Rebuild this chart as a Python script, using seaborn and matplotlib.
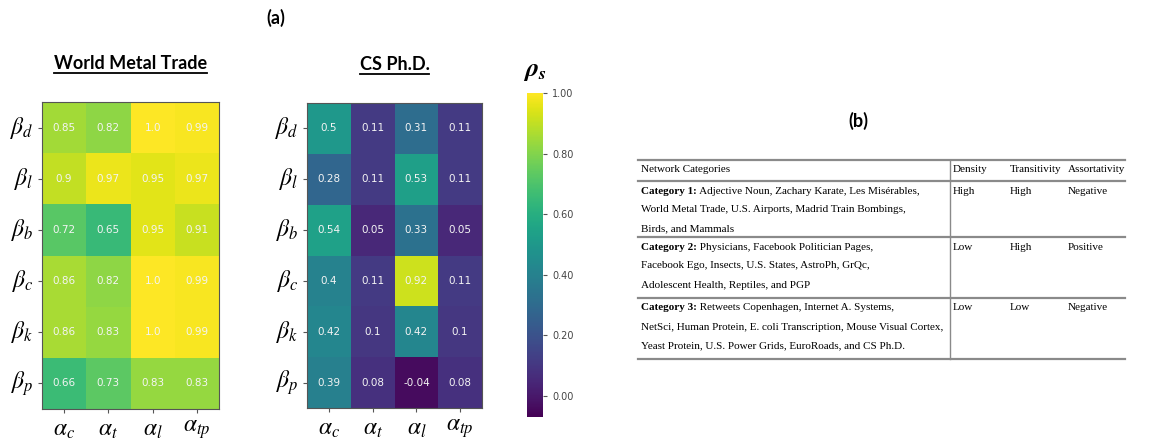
import matplotlib
matplotlib.use("Agg")
import matplotlib.pyplot as plt
import numpy as np
import seaborn as sns

# data
row_labels = [r"$\beta_d$", r"$\beta_l$", r"$\beta_b$", r"$\beta_c$", r"$\beta_k$", r"$\beta_p$"]
col_labels = [r"$\alpha_c$", r"$\alpha_t$", r"$\alpha_l$", r"$\alpha_{tp}$"]

metal_trade = [
    [0.85, 0.82, 1.0, 0.99],
    [0.9, 0.97, 0.95, 0.97],
    [0.72, 0.65, 0.95, 0.91],
    [0.86, 0.82, 1.0, 0.99],
    [0.86, 0.83, 1.0, 0.99],
    [0.66, 0.73, 0.83, 0.83],
]
cs_phd = [
    [0.5, 0.11, 0.31, 0.11],
    [0.28, 0.11, 0.53, 0.11],
    [0.54, 0.05, 0.33, 0.05],
    [0.4, 0.11, 0.92, 0.11],
    [0.42, 0.1, 0.42, 0.1],
    [0.39, 0.08, -0.04, 0.08],
]
cbar_ticks = [0.0, 0.2, 0.4, 0.6, 0.8, 1.0]

table_header = ["Network Categories", "Density", "Transitivity", "Assortativity"]
table_bold = ["Category 1:", "Category 2:", "Category 3:"]
table_lines = [
    [" Adjective Noun, Zachary Karate, Les Misérables,",
     "World Metal Trade, U.S. Airports, Madrid Train Bombings,",
     "Birds, and Mammals"],
    [" Physicians, Facebook Politician Pages,",
     "Facebook Ego, Insects, U.S. States, AstroPh, GrQc,",
     "Adolescent Health, Reptiles, and PGP"],
    [" Retweets Copenhagen, Internet A. Systems,",
     "NetSci, Human Protein, E. coli Transcription, Mouse Visual Cortex,",
     "Yeast Protein, U.S. Power Grids, EuroRoads, and CS Ph.D."],
]
table_density = ["High", "Low", "Low"]
table_transitivity = ["High", "High", "Low"]
table_assortativity = ["Negative", "Positive", "Negative"]

plt.rcParams["mathtext.fontset"] = "stix"

W, H = 1163, 446
fig = plt.figure(figsize=(W / 100, H / 100), dpi=100)


def px_axes(x0, y0, x1, y1):
    return fig.add_axes([x0 / W, 1 - y1 / H, (x1 - x0) / W, (y1 - y0) / H])


ax1 = px_axes(42, 102, 219, 409)
ax2 = px_axes(307, 103, 482, 408)
cax = px_axes(527, 93, 543, 417)

vmin, vmax = -0.07, 1.0
annot_kws = {"color": "#f4f4f4", "fontsize": 7.5}

for ax, data, title in [(ax1, metal_trade, "World Metal Trade"), (ax2, cs_phd, "CS Ph.D.")]:
    arr = np.array(data)
    labels = np.array([[str(v) for v in row] for row in data])
    sns.heatmap(arr, ax=ax, cmap="viridis", vmin=vmin, vmax=vmax,
                annot=labels, fmt="", annot_kws=annot_kws,
                xticklabels=col_labels, yticklabels=row_labels,
                cbar=(ax is ax2), cbar_ax=cax if ax is ax2 else None,
                cbar_kws={"ticks": cbar_ticks, "format": "%.2f"})
    for s in ax.spines.values():
        s.set_visible(True)
        s.set_color("#555555")
        s.set_linewidth(0.8)
    ax.tick_params(axis="both", length=3, color="#555555", labelsize=17, pad=3)
    ax.tick_params(axis="y", rotation=0)
    ax.tick_params(axis="x", rotation=0)
    ax.set_title(title, fontsize=13, fontweight="bold", family="Lato", pad=24)

cax.tick_params(labelsize=7, length=3, color="#555555", labelcolor="#444444")
for s in cax.spines.values():
    s.set_color("#555555")
cax.set_title(r"$\mathbfit{\rho}_{\mathbfit{s}}$", fontsize=19, pad=12)

# overlay axes in pixel coordinates for labels and the table
ov = fig.add_axes([0, 0, 1, 1], zorder=-1)
ov.set_xlim(0, W)
ov.set_ylim(H, 0)
ov.axis("off")

ov.text(276, 18, "(a)", fontsize=13, fontweight="bold", family="Lato", ha="center", va="center")
ov.text(858, 121, "(b)", fontsize=13, fontweight="bold", family="Lato", ha="center", va="center")

# underline titles
fig.canvas.draw()
renderer = fig.canvas.get_renderer()
inv = ov.transData.inverted()
for ax in (ax1, ax2):
    bb = ax.title.get_window_extent(renderer)
    (xa, ya), (xb, yb) = inv.transform([[bb.x0, bb.y0], [bb.x1, bb.y1]])
    ov.plot([xa, xb], [ya + 1, ya + 1], color="black", lw=1.3)

# table
tab_left, tab_right, tab_split = 638, 1125, 950
col_x = [641, 953, 1010, 1068]
line_color = "#8a8a8a"
row_edges = [160, 181, 237, 298, 359]
for y in row_edges:
    ov.plot([tab_left, tab_right], [y, y], color=line_color, lw=1.6)
ov.plot([tab_split, tab_split], [row_edges[0], row_edges[-1]], color=line_color, lw=1.0)

fs = 8
serif = "Liberation Serif"
for x, h in zip(col_x, table_header):
    ov.text(x, 170, h, fontsize=fs, family=serif, va="center")

line_h = 19
for i in range(3):
    y0 = row_edges[i + 1] + 10
    tb = ov.text(col_x[0], y0, table_bold[i], fontsize=fs, family=serif,
                 fontweight="bold", va="center")
    fig.canvas.draw()
    bb = tb.get_window_extent(renderer)
    xe = inv.transform([[bb.x1, bb.y0]])[0][0]
    ov.text(xe, y0, table_lines[i][0], fontsize=fs, family=serif, va="center")
    for k in (1, 2):
        ov.text(col_x[0], y0 + k * line_h, table_lines[i][k], fontsize=fs, family=serif, va="center")
    ov.text(col_x[1], y0, table_density[i], fontsize=fs, family=serif, va="center")
    ov.text(col_x[2], y0, table_transitivity[i], fontsize=fs, family=serif, va="center")
    ov.text(col_x[3], y0, table_assortativity[i], fontsize=fs, family=serif, va="center")

fig.savefig("out.png", dpi=100)
